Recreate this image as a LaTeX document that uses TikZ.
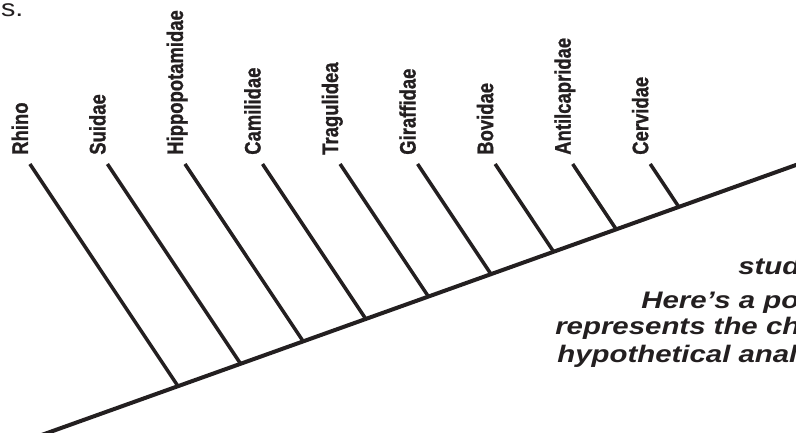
\documentclass[tikz,border=0pt]{standalone}
\usepackage{fontspec}
\usepackage{tikz}
\usetikzlibrary{calc}
\newfontfamily\taxonfont{Liberation Sans Bold}[FakeStretch=0.82,FakeBold=1]
\newfontfamily\notefont{Liberation Sans Bold Italic}[FakeStretch=1.23]
\newfontfamily\runonfont{Liberation Sans}[FakeStretch=1.2]
\definecolor{ink}{HTML}{231F20}
\tikzset{
  trunk/.style={draw=ink, line width=2.85pt},
  branch/.style={draw=ink, line width=2.5pt},
  taxon/.style={rotate=90, anchor=base west, inner sep=0pt, text=ink,
    font=\taxonfont\fontsize{16}{16}\selectfont},
  note/.style={anchor=base west, inner sep=0pt, text=ink,
    font=\notefont\fontsize{17}{17}\selectfont},
  runon/.style={anchor=base west, inner sep=0pt, text=ink,
    font=\runonfont\fontsize{17}{17}\selectfont}
}

\begin{document}
\begin{tikzpicture}
  \useasboundingbox (0,0) rectangle (19.9,10.8);
  \clip (0,0) rectangle (19.9,10.8);

  % main stem
  \coordinate (root) at (1.0,-0.0895);
  \coordinate (tip) at (20.5,6.89);
  \draw[trunk] (root) -- (tip);

  % one branch per family
  \foreach \name [count=\k from 0] in {Rhino,Suidae,Hippopotamidae,Camilidae,Tragulidea,Giraffidae,Bovidae,Antilcapridae,Cervidae} {
    \coordinate (j\k) at ({4.45+1.565*\k},{1.145+0.5603*\k});
    \coordinate (t\k) at ({0.7475+1.9385*\k},6.7);
    \draw[branch] (j\k) -- (t\k);
    \node[taxon] (n\k) at ($(t\k)+(-0.05,0.225)$) {\name};
  }

  % text around the tree
  \node[runon] (prev) at (0.02,10.38) {s.};
  \node[note] (l1) at (18.45,3.925) {stud};
  \node[note] (l2) at (16.025,3.075) {Here’s a po};
  \node[note] (l3) at (13.875,2.425) {represents the ch};
  \node[note] (l4) at (13.925,1.725) {hypothetical anal};
\end{tikzpicture}
\end{document}
